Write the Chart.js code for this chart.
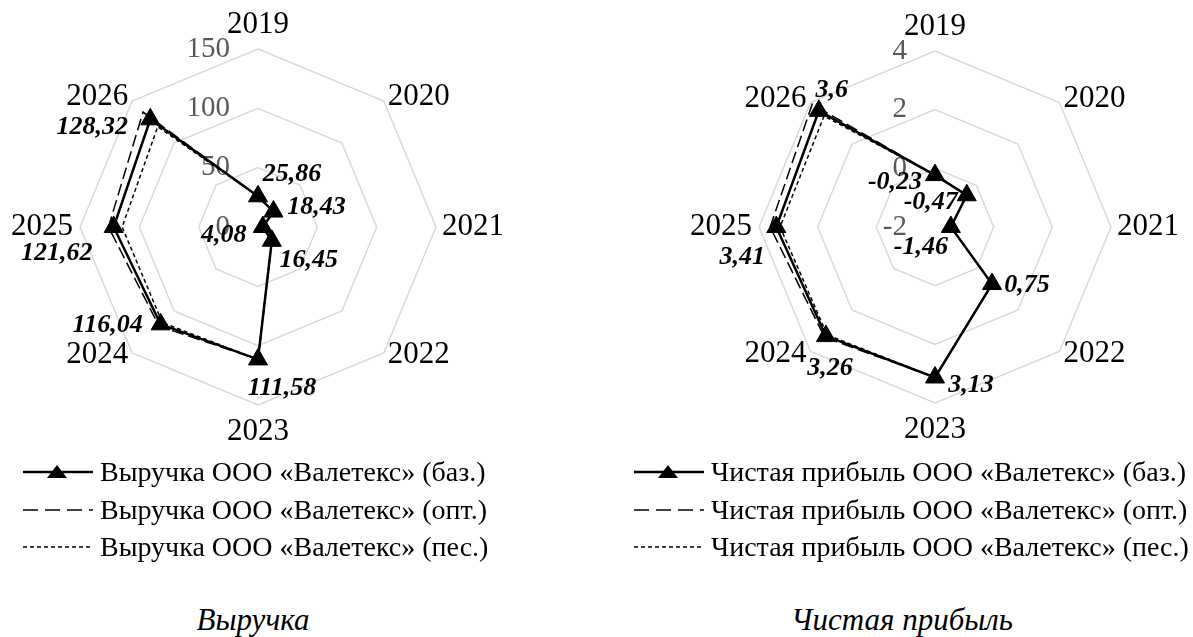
<!DOCTYPE html>
<html>
<head>
<meta charset="utf-8">
<script src="https://cdn.jsdelivr.net/npm/chart.js@4.4.1/dist/chart.umd.min.js"></script>
<style>
  body { margin: 0; background: #fff; width: 1193px; height: 637px; position: relative; overflow: hidden;
         font-family: "Liberation Serif", "Times New Roman", serif; color: #000; }
  canvas { position: absolute; top: 0; }
  .row { position: absolute; height: 38px; display: flex; align-items: center; white-space: nowrap; font-size: 28px; }
  .row svg { margin-right: 7px; }
  .title { position: absolute; top: 602px; font-style: italic; font-size: 31px; text-align: center; width: 300px; line-height: 36px; }
</style>
</head>
<body>
<canvas id="revenueChart" width="516" height="454" style="left:0"></canvas>
<canvas id="profitChart" width="516" height="454" style="left:677px"></canvas>
<div id="legends"></div>
<div class="title" style="left:103px">Выручка</div>
<div class="title" style="left:752px">Чистая прибыль</div>

<script>
const years = ['2019', '2020', '2021', '2022', '2023', '2024', '2025', '2026'];

// Выручка, млн руб.
const revenueBase = [25.86, 18.43, 4.08, 16.45, 111.58, 116.04, 121.62, 128.32];
const revenueOpt = [25.86, 18.43, 4.08, 16.45, 111.58, 118.0, 126.0, 137.0];
const revenuePes = [25.86, 18.43, 4.08, 16.45, 111.58, 114.0, 114.5, 119.5];
const revenueTicks = [0, 50, 100, 150];

// Чистая прибыль, млн руб.
const profitBase = [-0.23, -0.47, -1.46, 0.75, 3.13, 3.26, 3.41, 3.6];
const profitOpt = [-0.23, -0.47, -1.46, 0.75, 3.13, 3.32, 3.62, 3.92];
const profitPes = [-0.23, -0.47, -1.46, 0.75, 3.13, 3.2, 3.28, 3.35];
const profitTicks = [-2, 0, 2, 4];

const revenueNames = ['Выручка ООО «Валетекс» (баз.)', 'Выручка ООО «Валетекс» (опт.)', 'Выручка ООО «Валетекс» (пес.)'];
const profitNames = ['Чистая прибыль ООО «Валетекс» (баз.)', 'Чистая прибыль ООО «Валетекс» (опт.)', 'Чистая прибыль ООО «Валетекс» (пес.)'];

// where each value label sits relative to its marker
const revenueLabelShift = [[34, -22], [43, -4], [-39, 8], [37, 19], [24, 29], [-53, 1], [-57, 26], [-58, 8]];
const profitLabelShift = [[-40, 7], [-36, 7], [-30, 20], [35, 1], [36, 8], [4, 32], [-34, 30], [13, -21]];

const serif = '"Liberation Serif", "Times New Roman", serif';
const fmt = (v) => String(v).replace('.', ',');

// tick labels, year labels and value labels are drawn by hand (Excel-like placement)
const radarText = {
  id: 'radarText',
  beforeDatasetsDraw(chart) {
    const s = chart.scales.r;
    const ctx = chart.ctx;
    ctx.save();
    ctx.font = '29px ' + serif;
    ctx.fillStyle = '#595959';
    ctx.textAlign = 'right';
    ctx.textBaseline = 'middle';
    s.ticks.forEach((t) => {
      ctx.fillText(String(t.value), s.xCenter - 28, s.yCenter - s.getDistanceFromCenterForValue(t.value));
    });
    ctx.restore();
  },
  afterDatasetsDraw(chart, args, opts) {
    const s = chart.scales.r;
    const ctx = chart.ctx;
    ctx.save();
    ctx.font = '31px ' + serif;
    ctx.fillStyle = '#000';
    ctx.textBaseline = 'middle';
    chart.data.labels.forEach((label, i) => {
      const p = s.getPointPosition(i, s.drawingArea);
      const a = s.getIndexAngle(i);
      const sin = Math.sin(a), cos = Math.cos(a);
      let x = p.x, y = p.y;
      if (Math.abs(sin) < 0.1) {
        ctx.textAlign = 'center';
        y += cos > 0 ? -24 : 27;
      } else if (Math.abs(cos) < 0.1) {
        ctx.textAlign = sin > 0 ? 'left' : 'right';
        x += sin > 0 ? 6 : -7;
      } else {
        ctx.textAlign = sin > 0 ? 'left' : 'right';
        x += sin > 0 ? 4 : -4;
        y += cos > 0 ? -4 : 2;
      }
      ctx.fillText(label, x, y);
    });

    // value labels for the base scenario
    const meta = chart.getDatasetMeta(0);
    const values = chart.data.datasets[0].data;
    ctx.font = 'italic bold 26px ' + serif;
    ctx.textAlign = 'center';
    meta.data.forEach((pt, i) => {
      const sh = opts.shift[i];
      ctx.fillText(fmt(values[i]), pt.x + sh[0], pt.y + sh[1]);
    });
    ctx.restore();
  }
};

function makeRadar(canvasId, names, base, opt, pes, ticks, shift, padTop) {
  const ctx = document.getElementById(canvasId).getContext('2d');
  return new Chart(ctx, {
    type: 'radar',
    data: {
      labels: years,
      datasets: [
        { label: names[0], data: base, borderColor: '#000', borderWidth: 2.5,
          pointStyle: 'triangle', pointRadius: 11, pointBackgroundColor: '#000', pointBorderColor: '#000', pointBorderWidth: 1 },
        { label: names[1], data: opt, borderColor: '#000', borderWidth: 1.5, borderDash: [12, 5], pointRadius: 0 },
        { label: names[2], data: pes, borderColor: '#000', borderWidth: 1.5, borderDash: [4, 3], pointRadius: 0 }
      ]
    },
    options: {
      responsive: false,
      animation: false,
      layout: { padding: { top: padTop, bottom: padTop, left: 0, right: 0 } },
      elements: { line: { fill: false, tension: 0 } },
      plugins: { legend: { display: false }, tooltip: { enabled: false }, radarText: { shift: shift } },
      scales: {
        r: {
          min: ticks[0],
          max: ticks[ticks.length - 1],
          ticks: { display: false, stepSize: ticks[1] - ticks[0] },
          grid: { circular: false, color: '#d9d9d9', lineWidth: 1.5 },
          angleLines: { display: false },
          pointLabels: { display: false }
        }
      }
    },
    plugins: [radarText]
  });
}

makeRadar('revenueChart', revenueNames, revenueBase, revenueOpt, revenuePes, revenueTicks, revenueLabelShift, 49);
makeRadar('profitChart', profitNames, profitBase, profitOpt, profitPes, profitTicks, profitLabelShift, 51);

// legends below each chart
const samples = [
  '<line x1="0" y1="12" x2="70" y2="12" stroke="#000" stroke-width="2.5"/><polygon points="34,5 44,18 24,18" fill="#000"/>',
  '<line x1="0" y1="12" x2="70" y2="12" stroke="#000" stroke-width="1.5" stroke-dasharray="15 7"/>',
  '<line x1="0" y1="12" x2="70" y2="12" stroke="#000" stroke-width="1.5" stroke-dasharray="4 3"/>'
];
const rowCenters = [472, 510, 547];
function addLegend(names, left) {
  const box = document.getElementById('legends');
  names.forEach((n, i) => {
    const row = document.createElement('div');
    row.className = 'row';
    row.style.left = left + 'px';
    row.style.top = (rowCenters[i] - 19) + 'px';
    row.innerHTML = '<svg width="70" height="24">' + samples[i] + '</svg><span>' + n + '</span>';
    box.appendChild(row);
  });
}
addLegend(revenueNames, 23);
addLegend(profitNames, 634);
</script>
</body>
</html>
